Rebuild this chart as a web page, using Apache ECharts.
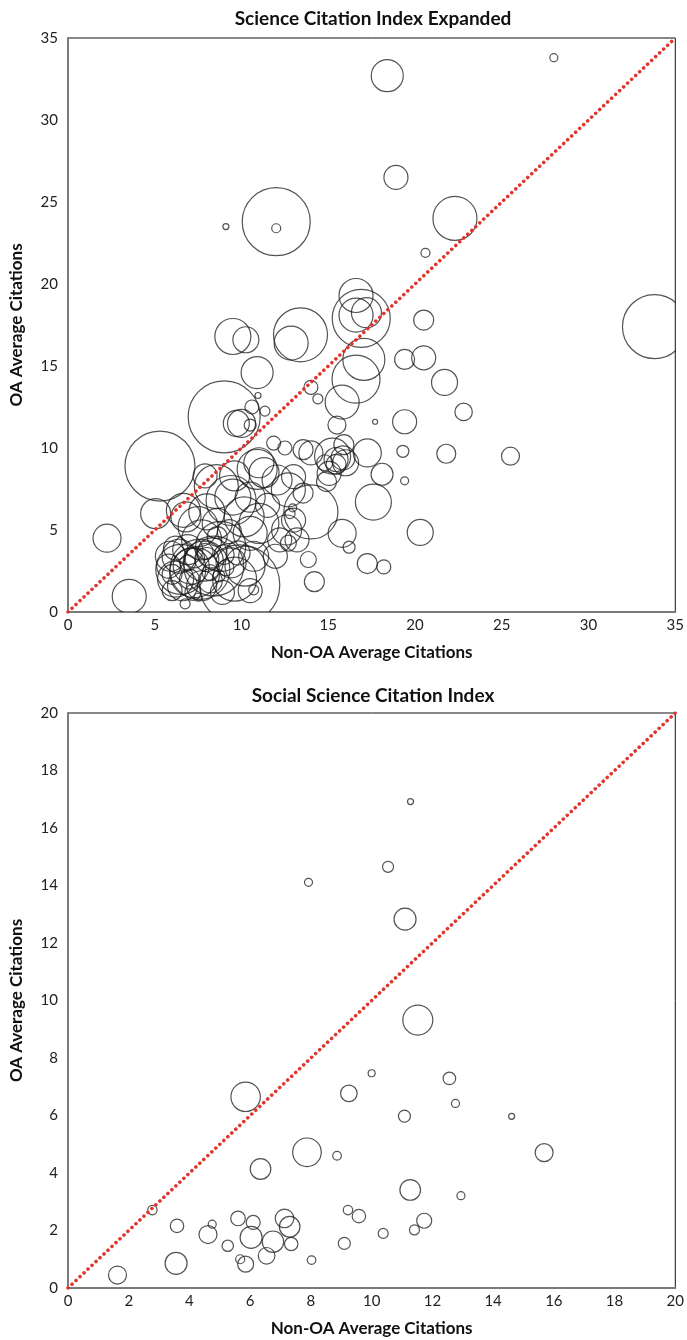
<!DOCTYPE html>
<html>
<head>
<meta charset="utf-8">
<script src="https://cdn.jsdelivr.net/npm/echarts@6/dist/echarts.min.js"></script>
<style>
html,body{margin:0;padding:0;background:#fff;}
#chart{width:687px;height:1340px;}
</style>
</head>
<body>
<div id="chart"></div>
<script>
// ---------- Science Citation Index Expanded ----------
const sciTitle = "Science Citation Index Expanded";
const sciNonOA = [18.4,28.0,18.9,22.3,12.0,12.0,9.1,20.6,33.8,16.6,16.9,16.6,17.2,17.05,16.6,9.5,10.25,12.86,13.4,10.9,
  9.0,9.7,10.0,10.6,10.95,11.35,10.5,14.0,14.4,15.8,15.5,17.7,19.4,19.4,20.5,20.5,21.7,22.8,21.8,25.5,
  20.3,19.3,19.4,5.3,5.05,2.25,3.53,18.1,17.6,17.25,15.8,16.2,17.25,18.2,13.85,14.2,14.0,14.0,13.55,11.85,
  12.5,15.05,14.9,14.8,15.45,16.0,15.25,15.85,15.9,15.45,12.05,13.0,12.7,13.55,12.8,12.95,12.6,12.2,13.2,13.0,
  12.7,11.3,11.0,10.9,11.0,10.5,10.7,10.7,11.95,11.5,5.8,6.4,6.9,7.7,8.8,8.4,7.3,7.7,6.6,9.6,
  10.2,10.5,6.75,7.5,6.5,7.6,5.9,6.2,8.0,9.0,8.2,7.0,6.9,9.1,8.6,7.3,9.9,6.8,8.0,7.5,
  8.6,10.15,10.5,8.55,9.5,9.6,7.9,6.65,9.4,8.2,7.9,6.0,9.3,9.8,
  6.2,7.1,8.9,7.8,8.3,9.4,6.0,8.7,7.2];
const sciOA = [32.7,33.8,26.5,24.0,23.8,23.4,23.5,21.9,17.4,19.3,17.9,18.1,18.25,15.4,14.2,16.8,16.6,16.4,16.9,14.6,
  11.9,11.5,11.5,12.5,13.2,12.25,11.4,13.7,13.0,12.8,11.4,11.6,11.6,15.4,15.5,17.8,14.0,12.2,9.65,9.5,
  4.85,9.8,8.0,8.9,6.0,4.5,0.95,8.4,6.7,9.7,4.8,3.95,2.95,2.75,3.2,1.85,6.1,9.7,9.9,10.3,
  10.0,8.45,7.95,9.1,9.0,9.1,9.5,9.4,10.2,9.3,8.05,8.25,7.45,7.25,6.0,6.35,5.0,4.4,4.4,5.6,
  4.2,8.5,9.1,8.7,5.4,7.0,3.4,1.35,3.4,6.5,2.8,3.4,3.8,4.4,4.0,2.8,2.4,1.6,1.6,2.0,
  2.8,1.3,0.5,0.9,2.6,2.6,3.4,2.0,3.2,3.5,1.9,2.0,3.0,2.7,4.6,3.3,1.65,5.8,6.1,5.2,
  5.4,5.8,4.8,7.65,7.0,8.3,8.3,6.2,6.8,2.4,3.7,2.3,4.9,3.6,
  3.9,2.8,1.2,3.1,3.6,3.0,1.3,2.2,1.2];
const sciBubble = [16,4,12,22,34,4.5,3,4.5,32,17,29,17,15,21,24,18,13,17,27,16,
  36,13,14,7,3,5,6,7,5,17,9,2.5,12,10,12,10,13,8.7,9.5,9,
  13,6,4,35,15,14,17,11,18,14,14,6,10,7,8,10,27,12,10,7,
  7,12,10,8,10,13,18,12,10,12,15,12,17,10,5,4,15,12,12,12,
  8,15,15,20,20,15,15,5,12,12,12,17,15,20,25,30,25,15,15,22,
  20,12,5,4,25,30,15,18,12,10,12,10,8,8,10,10,40,15,18,20,
  15,20,17,22,18,15,12,17,25,8,8,10,12,12,
  12,18,12,20,15,15,10,6,8];

// ---------- Social Science Citation Index ----------
const socTitle = "Social Science Citation Index";
const socNonOA = [1.63,2.78,3.59,3.56,4.75,4.61,5.26,5.6,5.67,5.85,6.03,6.1,5.85,6.34,6.54,6.75,7.13,7.3,7.35,7.87,
  8.02,8.86,9.25,9.22,9.58,9.1,10.0,10.38,11.52,12.56,12.76,11.08,14.61,15.68,11.27,12.94,11.73,11.41,11.28,10.54,
  7.92,11.1];
const socOA = [0.45,2.71,2.16,0.86,2.22,1.86,1.47,2.42,1.0,0.83,1.76,2.28,6.65,4.14,1.12,1.61,2.42,2.13,1.53,4.72,
  0.97,4.6,6.77,2.71,2.5,1.55,7.47,1.9,9.32,7.29,6.42,5.98,5.97,4.71,3.41,3.21,2.34,2.02,16.92,14.65,
  14.11,12.83];
const socBubble = [9,4.7,6.7,11,4,9,5.7,7.3,4.5,8,11,7,14.7,10.3,8.3,10.7,9.3,10.3,6.7,14.3,
  4.3,4.3,8.3,4.7,6.7,6,3.5,5,15,6.3,4,6,3,9,10.3,4,7.5,5,3,5.5,
  4,11];

const sciAxis = {min: 0, max: 35, interval: 5};
const socAxis = {min: 0, max: 20, interval: 2};
const xName = "Non-OA Average Citations";
const yName = "OA Average Citations";

function zip(xs, ys, bs) { return xs.map((x, i) => [x, ys[i], bs[i]]); }

const FONT = 'Lato';
const chart = echarts.init(document.getElementById('chart'), null, {renderer: 'canvas'});

function xAx(gi, ax) {
  return {
    gridIndex: gi, type: 'value', min: ax.min, max: ax.max, interval: ax.interval,
    name: xName, nameLocation: 'middle', nameGap: 32,
    nameTextStyle: {fontFamily: FONT, fontWeight: 'bold', fontSize: 17, color: '#111'},
    axisLine: {show: true, lineStyle: {color: '#7a7a7a', width: 2}},
    axisTick: {show: false},
    axisLabel: {fontFamily: FONT, fontSize: 15, color: '#222', margin: 6},
    splitLine: {show: false}
  };
}
function yAx(gi, ax) {
  return {
    gridIndex: gi, type: 'value', min: ax.min, max: ax.max, interval: ax.interval,
    name: yName, nameLocation: 'middle', nameGap: 43, nameRotate: 90,
    nameTextStyle: {fontFamily: FONT, fontWeight: 'bold', fontSize: 17, color: '#111'},
    axisLine: {show: true, lineStyle: {color: '#7a7a7a', width: 2}},
    axisTick: {show: false},
    axisLabel: {fontFamily: FONT, fontSize: 15, color: '#222', margin: 10},
    splitLine: {show: false}
  };
}
function bubbles(gi, data) {
  return {
    type: 'custom', coordinateSystem: 'cartesian2d', xAxisIndex: gi, yAxisIndex: gi,
    data: data, clip: true, silent: true, animation: false, z: 2,
    encode: {x: 0, y: 1},
    renderItem: function (params, api) {
      const p = api.coord([api.value(0), api.value(1)]);
      return {
        type: 'circle',
        shape: {cx: p[0], cy: p[1], r: api.value(2)},
        style: {fill: 'none', stroke: 'rgba(25,25,25,0.75)', lineWidth: 1.2}
      };
    }
  };
}
function diag(gi, ax) {
  return {
    type: 'line', xAxisIndex: gi, yAxisIndex: gi, data: [[ax.min, ax.min], [ax.max, ax.max]],
    symbol: 'none', silent: true, animation: false, z: 3,
    lineStyle: {color: '#e0342c', width: 3.5, type: [0.1, 5.4], cap: 'round'}
  };
}

chart.setOption({
  backgroundColor: '#fff',
  animation: false,
  title: [
    {text: sciTitle, left: 368, top: 4, textAlign: 'center',
     textStyle: {fontFamily: FONT, fontWeight: 'bold', fontSize: 19, color: '#111'}},
    {text: socTitle, left: 368, top: 681, textAlign: 'center',
     textStyle: {fontFamily: FONT, fontWeight: 'bold', fontSize: 19, color: '#111'}}
  ],
  grid: [
    {left: 61, top: 38, width: 618, height: 574, show: true, borderColor: '#111', borderWidth: 1, backgroundColor: 'transparent'},
    {left: 62, top: 713, width: 616, height: 575, show: true, borderColor: '#111', borderWidth: 1, backgroundColor: 'transparent'}
  ],
  xAxis: [xAx(0, sciAxis), xAx(1, socAxis)],
  yAxis: [yAx(0, sciAxis), yAx(1, socAxis)],
  series: [
    bubbles(0, zip(sciNonOA, sciOA, sciBubble)),
    diag(0, sciAxis),
    bubbles(1, zip(socNonOA, socOA, socBubble)),
    diag(1, socAxis)
  ]
});
</script>
</body>
</html>
